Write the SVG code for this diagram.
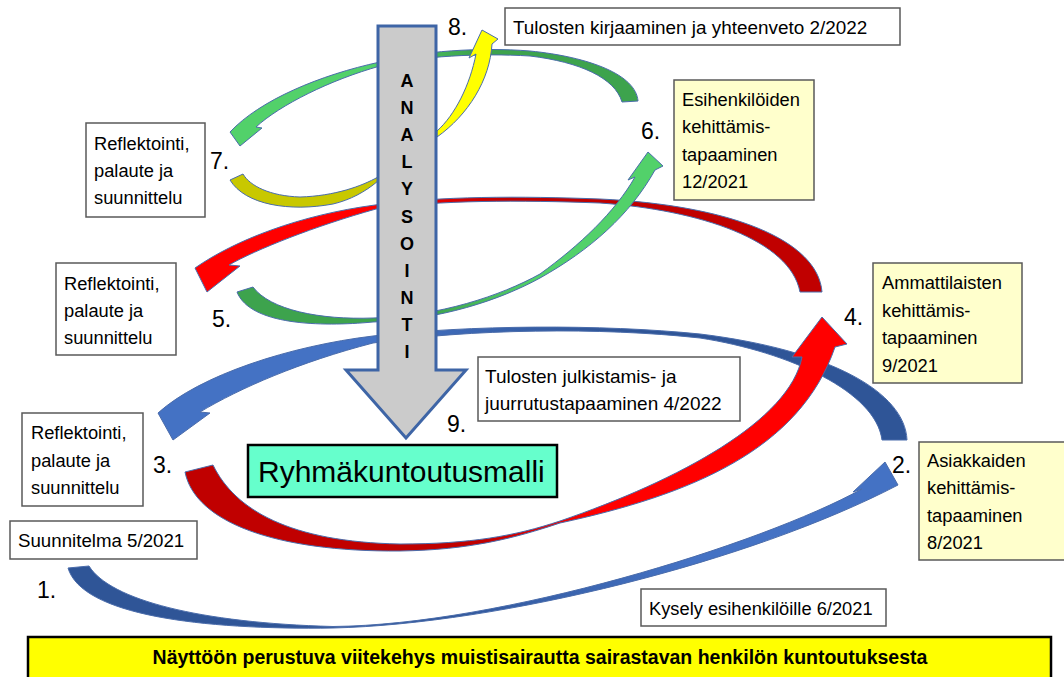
<svg xmlns="http://www.w3.org/2000/svg" width="1064" height="677" viewBox="0 0 1064 677">
<defs>
<linearGradient id="gA1" gradientUnits="userSpaceOnUse" x1="60" y1="0" x2="900" y2="0"><stop offset="0" stop-color="#2f5597"/><stop offset="0.45" stop-color="#2f5597"/><stop offset="0.75" stop-color="#4472c4"/><stop offset="1" stop-color="#4472c4"/></linearGradient>
<linearGradient id="gA2" gradientUnits="userSpaceOnUse" x1="150" y1="0" x2="910" y2="0"><stop offset="0" stop-color="#4472c4"/><stop offset="0.3" stop-color="#4472c4"/><stop offset="0.6" stop-color="#2f5597"/><stop offset="1" stop-color="#2f5597"/></linearGradient>
<linearGradient id="gA3" gradientUnits="userSpaceOnUse" x1="185" y1="0" x2="850" y2="0"><stop offset="0" stop-color="#c00000"/><stop offset="0.45" stop-color="#c00000"/><stop offset="0.62" stop-color="#ff0000"/><stop offset="1" stop-color="#ff0000"/></linearGradient>
<linearGradient id="gA4" gradientUnits="userSpaceOnUse" x1="190" y1="0" x2="825" y2="0"><stop offset="0" stop-color="#ff0000"/><stop offset="0.3" stop-color="#ff0000"/><stop offset="0.5" stop-color="#c00000"/><stop offset="1" stop-color="#c00000"/></linearGradient>
<linearGradient id="gA5" gradientUnits="userSpaceOnUse" x1="237" y1="0" x2="665" y2="0"><stop offset="0" stop-color="#3da34d"/><stop offset="0.45" stop-color="#3da34d"/><stop offset="0.7" stop-color="#52d16a"/><stop offset="1" stop-color="#52d16a"/></linearGradient>
<linearGradient id="gA6" gradientUnits="userSpaceOnUse" x1="228" y1="0" x2="640" y2="0"><stop offset="0" stop-color="#52d16a"/><stop offset="0.35" stop-color="#52d16a"/><stop offset="0.6" stop-color="#3da34d"/><stop offset="1" stop-color="#3da34d"/></linearGradient>
</defs>
<style>
.arc{stroke:#4a6cab;stroke-width:1;stroke-linejoin:round}
.box{fill:#ffffff;stroke:#595959;stroke-width:1.5}
.ybox{fill:#ffffcc;stroke:#595959;stroke-width:1.5}
.t{font-family:"Liberation Sans",Arial,sans-serif;font-size:18.3px;fill:#000000}
.num{font-family:"Liberation Sans",Arial,sans-serif;font-size:23px;fill:#000000}
.an{font-family:"Liberation Sans",Arial,sans-serif;font-size:18px;font-weight:bold;text-anchor:middle;fill:#000000}
</style>
<rect x="0" y="0" width="1064" height="677" fill="#ffffff"/>

<g id="connectors">
<path id="a1" class="arc" fill="url(#gA1)" d="M 68,568 C 82,615 200,630 333,628 C 500,624 750,562 898,485 L 885,462 L 853,492 L 862,489 C 760,545 500,625 333,626.5 C 200,623 110,600 89,566 Z"/>
<path id="a2" class="arc" fill="url(#gA2)" d="M 907,440 C 905,392 830,350 700,334 C 600,324 470,325 373,336 C 290,346 200,375 158,413 L 173,440 L 210,413 L 200,412 C 240,388 300,362 373,343 C 470,329 600,327 700,338 C 790,352 876,392 882,440 Z"/>
<path id="a3" class="arc" fill="url(#gA3)" d="M 185,472 C 195,522 275,552 400,551 C 470,550 515,538 560,523 C 690,495 800,450 835,347 L 847,344 L 822,317 L 792,357 L 802,357 C 790,420 680,480 560,521 C 515,536 470,544 400,544 C 290,542 235,510 213,465 Z"/>
<path id="a4" class="arc" fill="url(#gA4)" d="M 822,292 C 818,240 730,205 600,199 C 520,196 440,196 375,205 C 300,215 235,240 195,268 L 207,292 L 240,266 L 229,265 C 255,250 315,226 376,209 C 440,200 520,200 600,203 C 700,210 790,240 800,292 Z"/>
<path id="a5" class="arc" fill="url(#gA5)" d="M 237,292 C 250,325 320,327 373,322 C 440,320 500,300 540,278 C 590,250 630,215 655,170 L 663,166 L 648,152 L 628,180 L 635,177 C 615,212 580,245 540,274 C 500,296 440,316 373,318 C 320,320 270,310 253,287 Z"/>
<path id="a6" class="arc" fill="url(#gA6)" d="M 638,101 C 636,75 590,57 530,51 C 480,47 420,51 380,62 C 320,75 260,100 230,132 L 240,146 L 262,128 L 256,127 C 280,105 330,80 380,66 C 420,56 480,53 530,56 C 580,62 615,78 622,102 Z"/>
<path id="a7a" class="arc" fill="#c8c800" d="M 230,180 C 245,205 290,212 333,204 C 350,200 365,192 378,181 L 378,177 C 362,186 335,196 300,197 C 270,196 250,186 243,174 Z"/>
<path id="a7b" class="arc" fill="#ffff00" d="M 437,131 C 455,115 470,85 476,54 L 469,58 L 482,30 L 498,39 L 492,44 C 490,80 468,115 437,137 Z"/>
</g>

<g id="analysointi">
<path d="M 378,26 L 436,26 L 436,370 L 466,370 L 406,438 L 346,370 L 378,370 Z" fill="#cbcbcb" stroke="#3e65a6" stroke-width="3" stroke-linejoin="miter"/>
<text class="an" x="407" y="87">A</text>
<text class="an" x="407" y="114">N</text>
<text class="an" x="407" y="141">A</text>
<text class="an" x="407" y="168">L</text>
<text class="an" x="407" y="195">Y</text>
<text class="an" x="407" y="223">S</text>
<text class="an" x="407" y="250">O</text>
<text class="an" x="407" y="277">I</text>
<text class="an" x="407" y="304">N</text>
<text class="an" x="407" y="331">T</text>
<text class="an" x="407" y="358">I</text>
</g>

<g id="n8">
<rect class="box" x="505" y="8" width="395" height="37"/>
<text class="t" x="513" y="34" style="font-size:18.9px">Tulosten kirjaaminen ja yhteenveto 2/2022</text>
<text class="num" x="448" y="35">8.</text>
</g>

<g id="n6">
<rect class="ybox" x="674" y="80" width="140" height="120"/>
<text class="t" x="682" y="106">Esihenkilöiden</text>
<text class="t" x="682" y="133">kehittämis-</text>
<text class="t" x="682" y="161">tapaaminen</text>
<text class="t" x="682" y="188">12/2021</text>
<text class="num" x="641" y="139">6.</text>
</g>

<g id="n7">
<rect class="box" x="86" y="123" width="119" height="94"/>
<text class="t" x="94" y="150">Reflektointi,</text>
<text class="t" x="94" y="177">palaute ja</text>
<text class="t" x="94" y="204">suunnittelu</text>
<text class="num" x="210" y="169">7.</text>
</g>

<g id="n5">
<rect class="box" x="56" y="263" width="120" height="92"/>
<text class="t" x="64" y="290">Reflektointi,</text>
<text class="t" x="64" y="317">palaute ja</text>
<text class="t" x="64" y="344">suunnittelu</text>
<text class="num" x="212" y="327">5.</text>
</g>

<g id="n4">
<rect class="ybox" x="873" y="263" width="149" height="120"/>
<text class="t" x="882" y="289">Ammattilaisten</text>
<text class="t" x="882" y="317">kehittämis-</text>
<text class="t" x="882" y="344">tapaaminen</text>
<text class="t" x="882" y="372">9/2021</text>
<text class="num" x="844" y="325">4.</text>
</g>

<g id="n9">
<rect class="box" x="478" y="357" width="262" height="64"/>
<text class="t" x="485" y="383" style="font-size:19px">Tulosten julkistamis- ja</text>
<text class="t" x="485" y="410" style="font-size:19px">juurrutustapaaminen 4/2022</text>
<text class="num" x="447" y="432">9.</text>
</g>

<g id="n3">
<rect class="box" x="22" y="413" width="121" height="93"/>
<text class="t" x="31" y="439">Reflektointi,</text>
<text class="t" x="31" y="467">palaute ja</text>
<text class="t" x="31" y="494">suunnittelu</text>
<text class="num" x="153" y="473">3.</text>
</g>

<g id="model">
<rect x="248" y="445" width="309" height="52" fill="#66ffcc" stroke="#000000" stroke-width="2.5"/>
<text x="258" y="482" style="font-family:'Liberation Sans',Arial,sans-serif;font-size:30px;fill:#000000">Ryhmäkuntoutusmalli</text>
</g>

<g id="n2">
<rect class="ybox" x="919" y="442" width="150" height="118"/>
<text class="t" x="927" y="467">Asiakkaiden</text>
<text class="t" x="927" y="494">kehittämis-</text>
<text class="t" x="927" y="522">tapaaminen</text>
<text class="t" x="927" y="549">8/2021</text>
<text class="num" x="892" y="473">2.</text>
</g>

<g id="n1">
<rect class="box" x="10" y="521" width="187" height="38"/>
<text class="t" x="18" y="547" style="font-size:18.7px">Suunnitelma 5/2021</text>
<text class="num" x="37" y="598">1.</text>
</g>

<g id="survey">
<rect class="box" x="641" y="589" width="245" height="37"/>
<text class="t" x="649" y="615">Kysely esihenkilöille 6/2021</text>
</g>

<g id="framework">
<rect x="28" y="637" width="1023" height="46" fill="#ffff00" stroke="#000000" stroke-width="2.5"/>
<text x="540" y="664" text-anchor="middle" style="font-family:'Liberation Sans',Arial,sans-serif;font-size:19.5px;font-weight:bold;fill:#000000">Näyttöön perustuva viitekehys muistisairautta sairastavan henkilön kuntoutuksesta</text>
</g>
</svg>
